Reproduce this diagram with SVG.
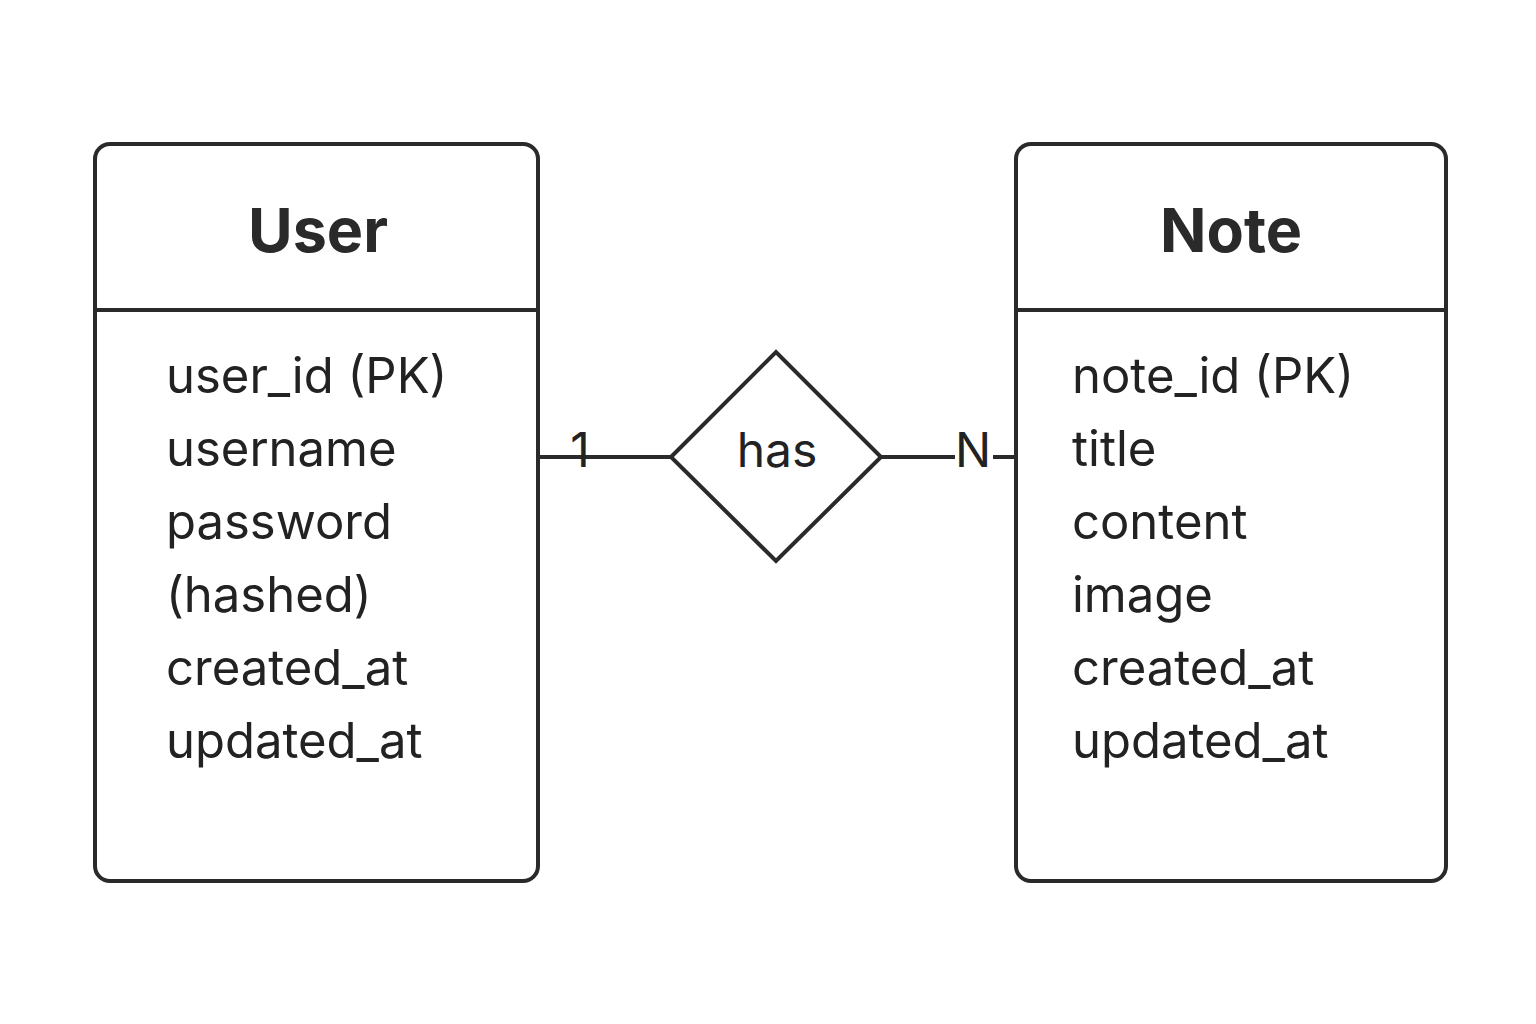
<svg xmlns="http://www.w3.org/2000/svg" width="1536" height="1024" viewBox="0 0 1536 1024">
<style>
.box{fill:#fff;stroke:#2a2a2a;stroke-width:4}
.ln{stroke:#2a2a2a;stroke-width:4;fill:none}
.title{font-family:Inter,"Liberation Sans",sans-serif;font-weight:700;font-size:61px;fill:#2a2a2a;text-anchor:middle}
.attr{font-family:Inter,"Liberation Sans",sans-serif;font-size:49px;fill:#222}
.lbl{font-family:Inter,"Liberation Sans",sans-serif;font-size:48px;fill:#222;text-anchor:middle}
</style>
<rect width="1536" height="1024" fill="#fff"/>
<g id="connectors">
<line class="ln" x1="540" y1="457" x2="671" y2="457"/>
<line class="ln" x1="881" y1="457" x2="955" y2="457"/>
<line class="ln" x1="993" y1="457" x2="1016" y2="457"/>
<text class="lbl" x="580" y="467">1</text>
<text class="lbl" x="973" y="467">N</text>
</g>
<g id="user">
<rect class="box" x="95" y="144" width="443" height="737" rx="15"/>
<line class="ln" x1="95" y1="310" x2="538" y2="310"/>
<text class="title" x="318" y="252">User</text>
<text class="attr" x="166" y="393">user_id (PK)</text>
<text class="attr" x="166" y="466">username</text>
<text class="attr" x="166" y="539">password</text>
<text class="attr" x="166" y="612">(hashed)</text>
<text class="attr" x="166" y="685">created_at</text>
<text class="attr" x="166" y="758">updated_at</text>
</g>
<g id="has">
<polygon class="box" points="671,457 776,352 881,457 776,561"/>
<text class="lbl" x="777" y="467">has</text>
</g>
<g id="note">
<rect class="box" x="1016" y="144" width="430" height="737" rx="15"/>
<line class="ln" x1="1016" y1="310" x2="1446" y2="310"/>
<text class="title" x="1231" y="252">Note</text>
<text class="attr" x="1072" y="393">note_id (PK)</text>
<text class="attr" x="1072" y="466">title</text>
<text class="attr" x="1072" y="539">content</text>
<text class="attr" x="1072" y="612">image</text>
<text class="attr" x="1072" y="685">created_at</text>
<text class="attr" x="1072" y="758">updated_at</text>
</g>
</svg>
